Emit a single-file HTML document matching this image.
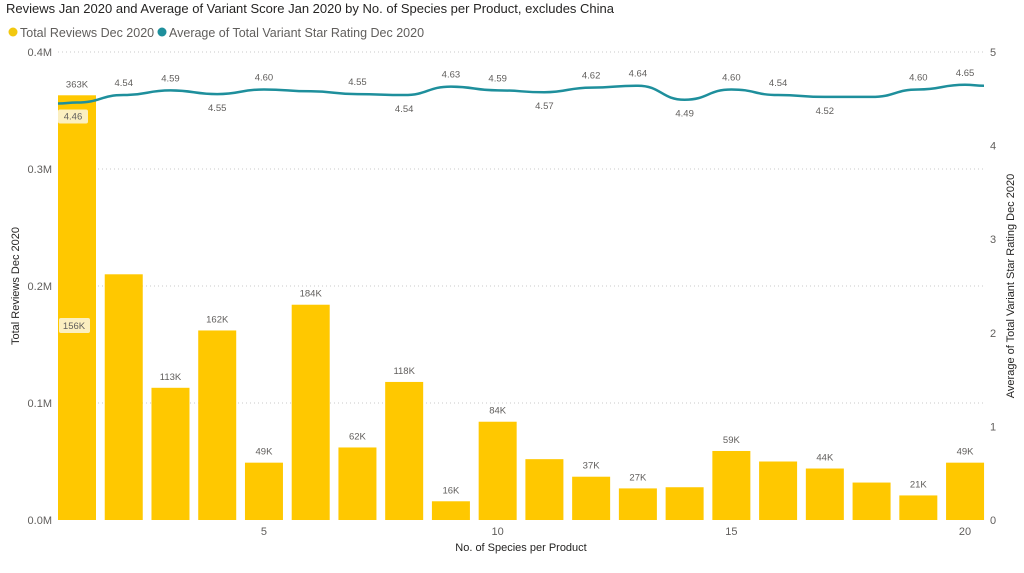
<!DOCTYPE html>
<html><head><meta charset="utf-8"><style>
body{margin:0;background:#fff;font-family:"Liberation Sans",sans-serif;}
svg text{font-family:"Liberation Sans",sans-serif;}
</style></head><body>
<svg id="chart" width="1024" height="568">
<text x="6" y="13" font-size="13" fill="#252423">Reviews Jan 2020 and Average of Variant Score Jan 2020 by No. of Species per Product, excludes China</text>
<g>
<circle cx="13" cy="32" r="4.5" fill="#F2C80F"/>
<text x="20" y="37" font-size="12.5" fill="#605E5C">Total Reviews Dec 2020</text>
<circle cx="162" cy="32" r="4.5" fill="#1E8F9C"/>
<text x="169" y="37" font-size="12.5" fill="#605E5C">Average of Total Variant Star Rating Dec 2020</text>
</g>
<g id="grid"></g><g id="bars"></g><g id="line"></g><g id="labels"></g><g id="axes"></g>
<text transform="translate(19,286) rotate(-90)" text-anchor="middle" font-size="11" fill="#252423">Total Reviews Dec 2020</text>
<text transform="translate(1014,286) rotate(-90)" text-anchor="middle" font-size="11" fill="#252423">Average of Total Variant Star Rating Dec 2020</text>
<text x="521" y="551" text-anchor="middle" font-size="11" fill="#252423">No. of Species per Product</text>
</svg>
<script>
const categories=[1,2,3,4,5,6,7,8,9,10,11,12,13,14,15,16,17,18,19,20];
const reviews=[363,210,113,162,49,184,62,118,16,84,52,37,27,28,59,50,44,32,21,49];
const reviewLabels=["363K","","113K","162K","49K","184K","62K","118K","16K","84K","","37K","27K","","59K","","44K","","21K","49K"];
const rating=[4.46,4.54,4.59,4.55,4.60,4.58,4.55,4.54,4.63,4.59,4.57,4.62,4.64,4.49,4.60,4.54,4.52,4.52,4.60,4.65];
const ratingLabels=["4.46","4.54","4.59","4.55","4.60","","4.55","4.54","4.63","4.59","4.57","4.62","4.64","4.49","4.60","4.54","4.52","","4.60","4.65"];
const ratingLabelBelow=[true,false,false,true,false,false,false,true,false,false,true,false,false,true,false,false,true,false,false,false];
const yTicks=[0,100,200,300,400];
const yTickLabels=["0.0M","0.1M","0.2M","0.3M","0.4M"];
const y2Ticks=[0,1,2,3,4,5];
const xTicks=[5,10,15,20];
const NS="http://www.w3.org/2000/svg";
const L=58,R=984,T=52,B=520;
const x=c=>77+(c-1)*46.74;
const y=v=>B-(v/400)*(B-T);
const y2=v=>B-(v/5)*(B-T);
function mk(tag,attrs,parent,text){const e=document.createElementNS(NS,tag);for(const k in attrs)e.setAttribute(k,attrs[k]);if(text!==undefined)e.textContent=text;document.getElementById(parent).appendChild(e);return e;}
yTicks.forEach((t,i)=>{
  if(t>0){const g=mk('line',{x1:L,x2:R,y1:y(t),y2:y(t),stroke:'#C8C8C8','stroke-dasharray':'1,3'},'grid');
  
  }
  const tl=mk('text',{x:52,y:y(t)+4,'text-anchor':'end','font-size':11,fill:'#605E5C'},'axes',yTickLabels[i]);
  
  
});
y2Ticks.forEach(t=>{
  const tl=mk('text',{x:990,y:y2(t)+4,'font-size':11,fill:'#605E5C'},'axes',String(t));
  
  
});
xTicks.forEach(t=>{
  const tl=mk('text',{x:x(t),y:535,'text-anchor':'middle','font-size':11,fill:'#605E5C'},'axes',String(t));
  
  
});
categories.forEach((c,i)=>{
  const b=mk('rect',{x:x(c)-19,y:y(reviews[i]),width:38,height:B-y(reviews[i]),fill:'#FFC800'},'bars');
  
  
  if(reviewLabels[i]){const t=mk('text',{x:x(c),y:y(reviews[i])-8,'text-anchor':'middle','font-size':9.5,fill:'#605E5C'},'labels',reviewLabels[i]);
  
  }
});
let pts=categories.map((c,i)=>[x(c),y2(rating[i])]);
pts=[[L,pts[0][1]+1]].concat(pts,[[R,pts[pts.length-1][1]+1]]);
let d='M'+pts[0][0]+','+pts[0][1];
for(let i=1;i<pts.length;i++){const p0=pts[i-1],p1=pts[i],mx=(p0[0]+p1[0])/2;d+=' C'+mx+','+p0[1]+' '+mx+','+p1[1]+' '+p1[0]+','+p1[1];}
const ln=mk('path',{d:d,fill:'none',stroke:'#1E8F9C','stroke-width':2.5},'line');


categories.forEach((c,i)=>{
  if(!ratingLabels[i])return;
  const below=ratingLabelBelow[i];
  let ty=below?y2(rating[i])+17:y2(rating[i])-9;
  if(i===0){const bg=mk('rect',{x:x(c)-19,y:ty-10,width:30,height:14,rx:2,fill:'#FBEFC0'},'labels');
  
  }
  const t=mk('text',{x:i===0?x(c)-4:x(c),y:ty,'text-anchor':'middle','font-size':9.5,fill:'#605E5C'},'labels',ratingLabels[i]);
  
  
});
const hb=mk('rect',{x:59,y:318,width:31,height:15,rx:2,fill:'#FBEFC0'},'labels');


const ht=mk('text',{x:74,y:329,'text-anchor':'middle','font-size':9.5,fill:'#605E5C'},'labels','156K');


</script>
</body></html>
